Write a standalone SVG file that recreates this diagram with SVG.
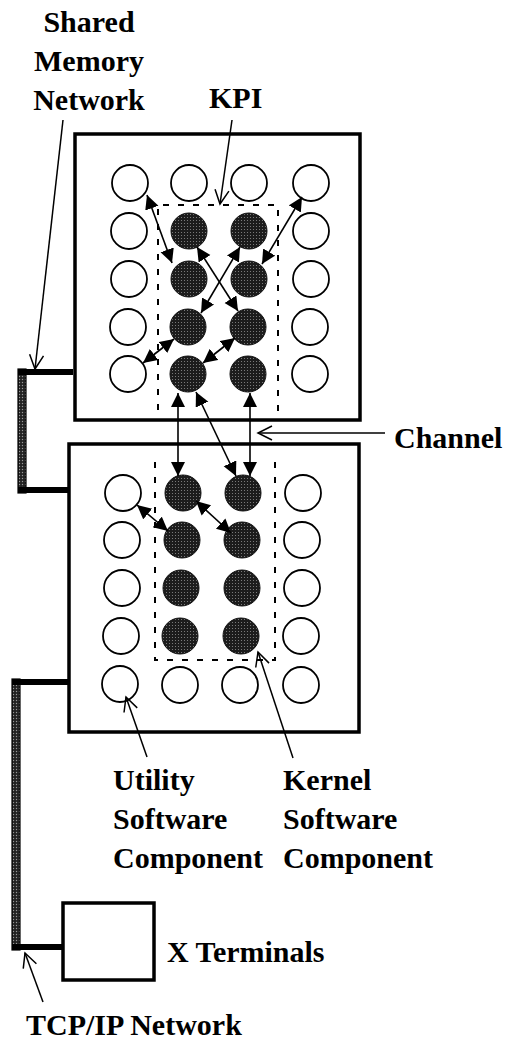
<svg xmlns="http://www.w3.org/2000/svg" width="505" height="1043" viewBox="0 0 505 1043">
<style>
.lbl{font-family:"Liberation Serif","Tinos","DejaVu Serif","Noto Serif",serif;font-weight:700;font-size:30px;fill:#000}
.box{fill:#fff;stroke:#000;stroke-width:3.5}
.o{fill:#fff;stroke:#000;stroke-width:1.8}
.f{fill:url(#stip);stroke:#111;stroke-width:1}
.kpi{fill:none;stroke:#000;stroke-width:2;stroke-dasharray:6 9}
.con{fill:none;stroke:#000;stroke-width:1.6;marker-start:url(#ah);marker-end:url(#ah)}
.ptr{fill:none;stroke:#000;stroke-width:1.5;marker-end:url(#open)}
.net{fill:url(#stip2);stroke:#000;stroke-width:1.2}
.nh{fill:none;stroke:#000;stroke-width:6}
</style>
<defs>
<pattern id="stip" width="3" height="3" patternUnits="userSpaceOnUse">
<rect width="3" height="3" fill="#1c1c1c"/><circle cx="1.5" cy="1.5" r="0.55" fill="#8a8a8a"/>
</pattern>
<pattern id="stip2" width="3" height="3" patternUnits="userSpaceOnUse">
<rect width="3" height="3" fill="#222"/><circle cx="1.5" cy="1.5" r="0.7" fill="#999"/>
</pattern>
<marker id="ah" markerUnits="userSpaceOnUse" markerWidth="16" markerHeight="16" refX="14" refY="7" orient="auto-start-reverse">
<path d="M0,0 L14,7 L0,14 z" fill="#000"/>
</marker>
<marker id="open" markerUnits="userSpaceOnUse" markerWidth="18" markerHeight="18" refX="15" refY="8" orient="auto">
<path d="M1,1 L15,8 L1,15" fill="none" stroke="#000" stroke-width="1.5"/>
</marker>
</defs>

<g id="shared-memory-network">
<rect class="net" x="18" y="369" width="8" height="124"/>
<path class="nh" d="M18,372 H73"/>
<path class="nh" d="M18,490 H70"/>
</g>
<g id="tcpip-network">
<rect class="net" x="12" y="679" width="8" height="271"/>
<path class="nh" d="M12,682 H70"/>
<path class="nh" d="M12,947 H64"/>
</g>

<g id="box-top"><rect class="box" x="75" y="134" width="285" height="286"/></g>
<g id="box-bottom"><rect class="box" x="69" y="444" width="290" height="288"/></g>
<g id="x-terminals"><rect class="box" x="63" y="903" width="91" height="77"/></g>

<g id="kpi">
<path class="kpi" d="M158,410 V205 H278 V412"/>
<path class="kpi" d="M155,462 V660 H275 V462"/>
</g>

<g id="top-components">
<g id="t11"><circle class="o" cx="130" cy="183" r="18"/></g>
<g id="t12"><circle class="o" cx="189" cy="183" r="18"/></g>
<g id="t13"><circle class="o" cx="249" cy="183" r="18"/></g>
<g id="t14"><circle class="o" cx="311" cy="183" r="18"/></g>
<g id="t21"><circle class="o" cx="129" cy="231" r="18"/></g>
<g id="t22"><circle class="f" cx="189" cy="231" r="18"/></g>
<g id="t23"><circle class="f" cx="249" cy="231" r="18"/></g>
<g id="t24"><circle class="o" cx="311" cy="231" r="18"/></g>
<g id="t31"><circle class="o" cx="129" cy="279" r="18"/></g>
<g id="t32"><circle class="f" cx="189" cy="279" r="18"/></g>
<g id="t33"><circle class="f" cx="249" cy="279" r="18"/></g>
<g id="t34"><circle class="o" cx="311" cy="279" r="18"/></g>
<g id="t41"><circle class="o" cx="128" cy="327" r="18"/></g>
<g id="t42"><circle class="f" cx="188" cy="327" r="18"/></g>
<g id="t43"><circle class="f" cx="248" cy="327" r="18"/></g>
<g id="t44"><circle class="o" cx="310" cy="327" r="18"/></g>
<g id="t51"><circle class="o" cx="128" cy="374" r="18"/></g>
<g id="t52"><circle class="f" cx="188" cy="374" r="18"/></g>
<g id="t53"><circle class="f" cx="248" cy="374" r="18"/></g>
<g id="t54"><circle class="o" cx="310" cy="374" r="18"/></g>
</g>

<g id="bottom-components">
<g id="b11"><circle class="o" cx="123" cy="493" r="18"/></g>
<g id="b12"><circle class="f" cx="183" cy="493" r="18"/></g>
<g id="b13"><circle class="f" cx="243" cy="493" r="18"/></g>
<g id="b14"><circle class="o" cx="303" cy="493" r="18"/></g>
<g id="b21"><circle class="o" cx="122" cy="540" r="18"/></g>
<g id="b22"><circle class="f" cx="182" cy="540" r="18"/></g>
<g id="b23"><circle class="f" cx="242" cy="540" r="18"/></g>
<g id="b24"><circle class="o" cx="302" cy="540" r="18"/></g>
<g id="b31"><circle class="o" cx="122" cy="588" r="18"/></g>
<g id="b32"><circle class="f" cx="181" cy="588" r="18"/></g>
<g id="b33"><circle class="f" cx="242" cy="588" r="18"/></g>
<g id="b34"><circle class="o" cx="302" cy="588" r="18"/></g>
<g id="b41"><circle class="o" cx="121" cy="636" r="18"/></g>
<g id="b42"><circle class="f" cx="180" cy="636" r="18"/></g>
<g id="b43"><circle class="f" cx="241" cy="636" r="18"/></g>
<g id="b44"><circle class="o" cx="301" cy="636" r="18"/></g>
<g id="b51"><circle class="o" cx="120" cy="684" r="18"/></g>
<g id="b52"><circle class="o" cx="180" cy="685" r="18"/></g>
<g id="b53"><circle class="o" cx="240" cy="685" r="18"/></g>
<g id="b54"><circle class="o" cx="301" cy="685" r="18"/></g>
</g>

<g id="connectors">
<path class="con" d="M147,195 L172,263"/>
<path class="con" d="M302,197 L262,264"/>
<path class="con" d="M197,247 L238,311"/>
<path class="con" d="M240,247 L201,313"/>
<path class="con" d="M174,339 L143,363"/>
<path class="con" d="M235,338 L203,363"/>
<path class="con" d="M178,393 L178,476"/>
<path class="con" d="M196,392 L236,476"/>
<path class="con" d="M250,393 L250,476"/>
<path class="con" d="M137,505 L168,531"/>
<path class="con" d="M196,501 L231,533"/>
</g>

<g id="pointers">
<path class="ptr" d="M63,120 L35,369"/>
<path class="ptr" d="M232,120 L220,204"/>
<path class="ptr" d="M385,433 L258,433"/>
<path class="ptr" d="M147,757 L126,697"/>
<path class="ptr" d="M293,758 L258,652"/>
<path class="ptr" d="M43,1002 L25,953"/>
</g>

<g id="labels" font-family="'Liberation Serif', 'DejaVu Serif', serif" font-weight="bold">
<text class="lbl" x="89" y="32" text-anchor="middle">Shared</text>
<text class="lbl" x="89" y="71" text-anchor="middle">Memory</text>
<text class="lbl" x="89" y="110" text-anchor="middle">Network</text>
<text class="lbl" x="209" y="108">KPI</text>
<text class="lbl" x="394" y="448">Channel</text>
<text class="lbl" x="113" y="790">Utility</text>
<text class="lbl" x="113" y="829">Software</text>
<text class="lbl" x="113" y="868">Component</text>
<text class="lbl" x="283" y="790">Kernel</text>
<text class="lbl" x="283" y="829">Software</text>
<text class="lbl" x="283" y="868">Component</text>
<text class="lbl" x="167" y="962">X Terminals</text>
<text class="lbl" x="26" y="1035">TCP/IP Network</text>
</g>
</svg>
